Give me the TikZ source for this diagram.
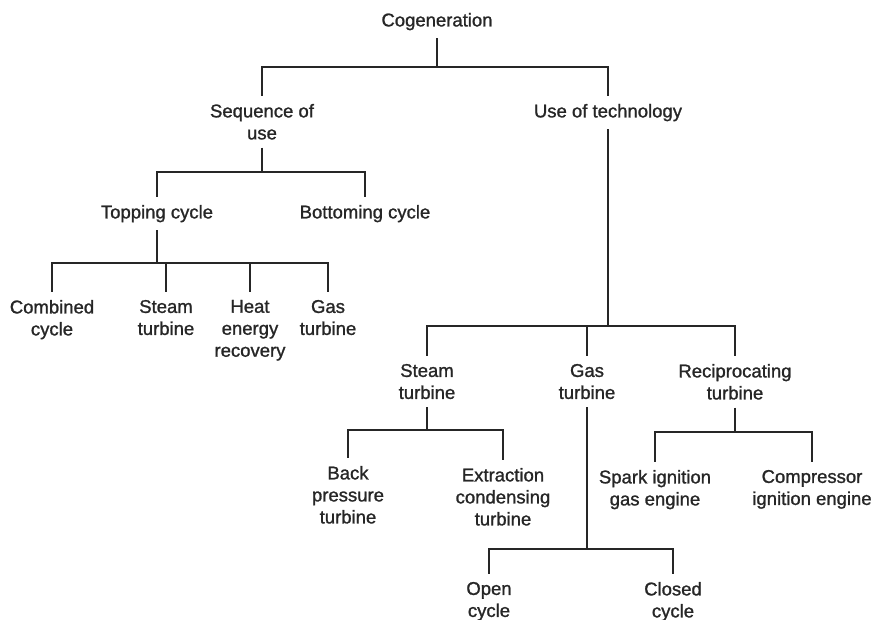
\documentclass[tikz,border=0pt]{standalone}
\usepackage{fontspec}
\setmainfont{Liberation Sans}
\newfontfamily\inkfont{Liberation Sans}[FakeBold=1.2]
\begin{document}
\begin{tikzpicture}[x=1pt, y=-1pt,
  lbl/.style={font=\inkfont\fontsize{18.5}{22}\selectfont, align=center, anchor=north,
    inner sep=0pt, outer ysep=8pt, text=black!85},
  link/.style={line width=2.4pt, black!85}]
\useasboundingbox (0,0) rectangle (872,620);

% labels
\node[lbl] (cog) at (437,5) {Cogeneration};
\foreach \n/\x/\y/\t in {seq/262/96/{Sequence of\\use}, tech/608/96/{Use of technology},
    top/157/197/{Topping cycle}, bot/365/197/{Bottoming cycle},
    comb/52/292/{Combined\\cycle}, steamA/166/292/{Steam\\turbine},
    heat/250/292/{Heat\\energy\\recovery}, gasA/328/292/{Gas\\turbine},
    steamB/427/356/{Steam\\turbine}, gasB/587/356/{Gas\\turbine},
    recip/735/356/{Reciprocating\\turbine},
    back/348/458/{Back\\pressure\\turbine}, extr/503/460/{Extraction\\condensing\\turbine},
    spark/655/462/{Spark ignition\\gas engine}, comp/812/462/{Compressor\\ignition engine},
    open/489/574/{Open\\cycle}, closed/673/574/{Closed\\cycle}}
{
    \node[lbl] (\n) at (\x,\y) {\t};
}

% junctions on the bars
\coordinate (j0) at (cog.south |- 0,67);
\coordinate (j1) at (seq.south |- 0,172);
\coordinate (j2) at (top.south |- 0,263);
\coordinate (j3) at (tech.south |- 0,326);
\coordinate (j4) at (steamB.south |- 0,430);
\coordinate (j5) at (gasB.south |- 0,549);
\coordinate (j6) at (recip.south |- 0,432);

% branches
\foreach \p/\j/\kids in {cog/j0/{seq,tech}, seq/j1/{top,bot}, top/j2/{comb,steamA,heat,gasA},
    tech/j3/{steamB,gasB,recip}, steamB/j4/{back,extr}, gasB/j5/{open,closed}, recip/j6/{spark,comp}}
{
    \draw[link] (\p.south) -- (\j);
    \foreach \c in \kids
        \draw[link] (\j) -| (\c.north);
}

\end{tikzpicture}
\end{document}
